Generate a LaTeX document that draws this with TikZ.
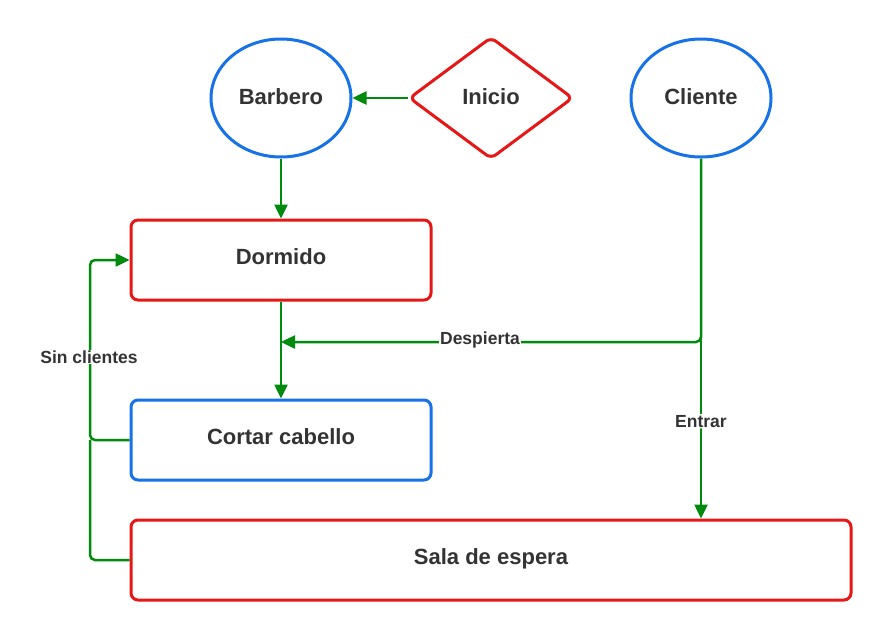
\documentclass[tikz,border=0pt]{standalone}
\usepackage{fontspec}
\setmainfont{Liberation Sans}
\usetikzlibrary{shapes.geometric,arrows.meta}
\definecolor{cblue}{HTML}{1672E6}
\definecolor{cred}{HTML}{E51717}
\definecolor{cgreen}{HTML}{008A0E}
\definecolor{ctext}{HTML}{333333}
\begin{document}
\begin{tikzpicture}[x=1pt,y=-1pt,
  every node/.style={text=ctext,font=\fontsize{22}{24}\selectfont\bfseries},
  boxtext/.style={text height=16pt,text depth=7pt},
  bluebox/.style={boxtext,draw=cblue,line width=3pt,rounded corners=7pt,minimum width=300pt,minimum height=80pt,inner sep=0pt},
  redbox/.style={boxtext,draw=cred,line width=3pt,rounded corners=7pt,minimum height=80pt,inner sep=0pt},
  oval/.style={ellipse,draw=cblue,line width=3pt,minimum width=140pt,minimum height=118pt,inner sep=0pt,text height=16pt,text depth=3pt},
  decision/.style={diamond,draw=cred,line width=3pt,rounded corners=6pt,minimum width=164pt,minimum height=122pt,inner sep=0pt,text height=16pt,text depth=3pt},
  conn/.style={draw=cgreen,line width=2.5pt,rounded corners=5pt},
  arr/.style={conn,-{Triangle[length=14pt,width=13pt]}},
  lbl/.style={fill=white,inner sep=1pt,font=\fontsize{17.5}{20}\selectfont\bfseries}]
\useasboundingbox (0,0) rectangle (891,640);
\node[oval] (barbero) at (281,98) {Barbero};
\node[decision] (inicio) at (491,98) {Inicio};
\node[oval] (cliente) at (701,98) {Cliente};
\node[redbox,minimum width=300pt] (dormido) at (281,260) {Dormido};
\node[bluebox] (cortar) at (281,440) {Cortar cabello};
\node[redbox,minimum width=720pt] (sala) at (491,560) {Sala de espera};
\coordinate (j) at (701,342);
\coordinate (d) at (281,342);
\coordinate (ret) at (90,440);
\draw[arr] (inicio.west) -- (barbero.east);
\draw[arr] (barbero.south) -- (dormido.north);
\draw[arr] (dormido.south) -- (cortar.north);
\draw[arr] (cliente.south) -- node[lbl,pos=0.73]{Entrar} (cliente.south |- sala.north);
\draw[arr] (cliente.south) |- (d);
\node[lbl] (desp) at (480,340) {Despierta};
\draw[arr] (cortar.west) -- (ret) |- (dormido.west);
\draw[conn] (sala.west) -| (ret);
\node[lbl] (sinc) at (89,357) {Sin clientes};
\end{tikzpicture}
\end{document}
